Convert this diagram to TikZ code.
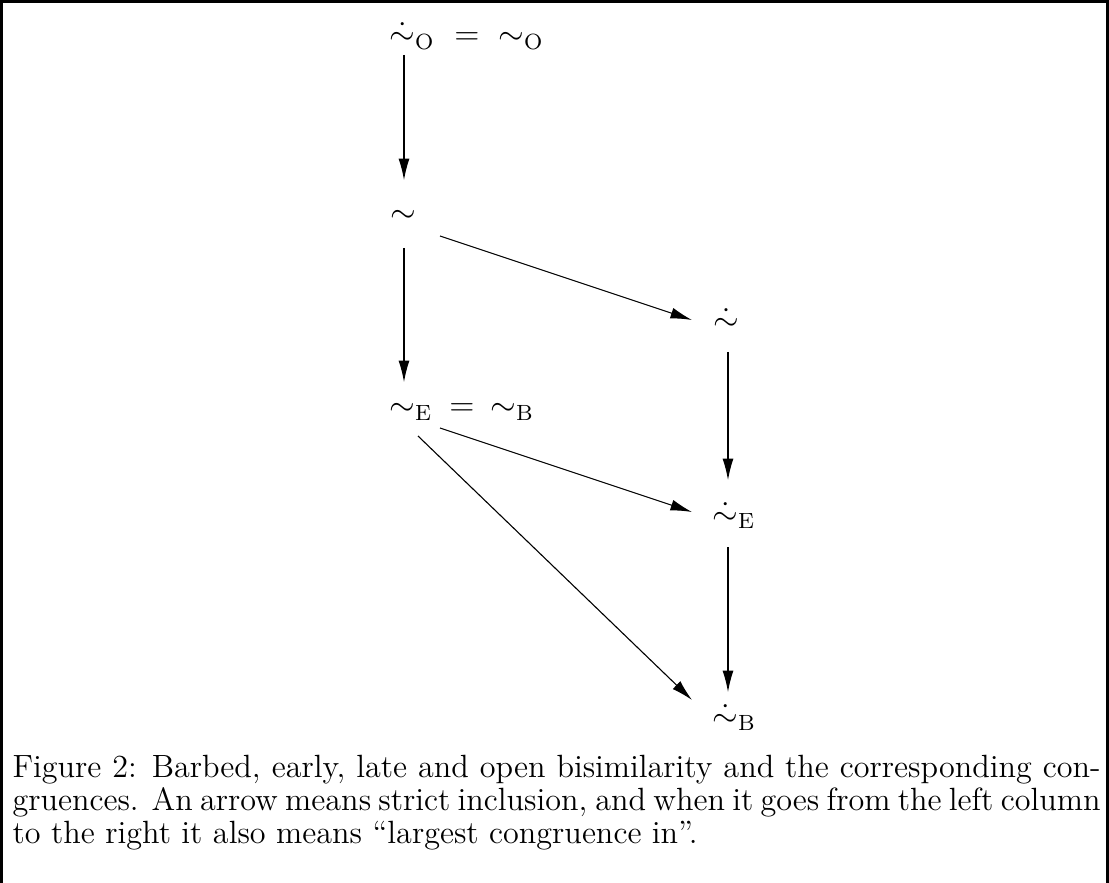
\documentclass[tikz,border=0pt]{standalone}
\usepackage{mathtools}
\usetikzlibrary{arrows.meta}
\tikzset{
  sym/.style={inner sep=0pt, anchor=base, font=\large},
  arr/.style={-{Latex[length=7.8pt,width=4pt]}, line width=0.4pt},
  frame/.style={line width=1.1pt},
  caption/.style={inner sep=0pt, anchor=north west, text width=395.6pt, align=justify, font=\fontsize{11.7}{12}\selectfont}
}
\begin{document}
\begin{tikzpicture}[x=0.3636pt,y=-0.3636pt]
\useasboundingbox (0,0) rectangle (1109,883);
\draw[frame] (1.5,883) -- (1.5,1.5) -- (1107.5,1.5) -- (1107.5,883);
% left column
\node[sym] (dO) at (403,45) {$\dot{\sim}_{\mathrlap{\mathrm{O}}}$};
\node[sym] (eq1) at (467,45) {$=$};
\node[sym] (sO) at (512,45) {$\sim_{\mathrlap{\mathrm{O}}}$};
\node[sym] (s) at (403,223) {$\sim$};
\node[sym] (sE) at (403,416) {$\sim_{\mathrlap{\mathrm{E}}}$};
\node[sym] (eq2) at (462,416) {$=$};
\node[sym] (sB) at (504,416) {$\sim_{\mathrlap{\mathrm{B}}}$};
% right column
\node[sym] (ds) at (726,331) {$\dot{\sim}$};
\node[sym] (dsE) at (726,524) {$\dot{\sim}_{\mathrlap{\mathrm{E}}}$};
\node[sym] (dsB) at (726,726) {$\dot{\sim}_{\mathrlap{\mathrm{B}}}$};
% connectors
\draw[arr] ([shift={(1,10)}]dO.base) -- ([shift={(1,-43)}]s.base);
\draw[arr] ([shift={(1,25)}]s.base) -- ([shift={(1,-34)}]sE.base);
\draw[arr] ([shift={(37,13)}]s.base) -- ([shift={(-34,-11)}]ds.base);
\draw[arr] ([shift={(2,21)}]ds.base) -- ([shift={(2,-44)}]dsE.base);
\draw[arr] ([shift={(37,12)}]sE.base) -- ([shift={(-34,-12)}]dsE.base);
\draw[arr] ([shift={(15,20)}]sE.base) -- ([shift={(-34,-26)}]dsB.base);
\draw[arr] ([shift={(2,23)}]dsE.base) -- ([shift={(2,-34)}]dsB.base);
% caption
\node[caption] (cap) at (12,755) {Figure 2: Barbed, early, late and open bisimilarity and the corresponding con-\linebreak gruences. An arrow means strict inclusion, and when it goes from the left column\linebreak to the right it also means ``largest congruence in''.};
\end{tikzpicture}
\end{document}
